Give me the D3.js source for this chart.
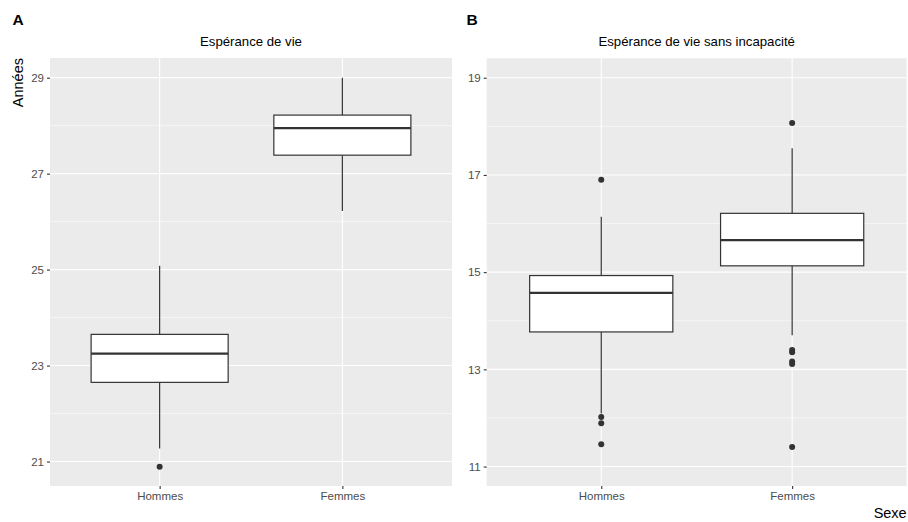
<!DOCTYPE html>
<meta charset='utf-8'>
<body style='margin:0;background:#fff'>
<script src='https://d3js.org/d3.v7.min.js'></script>
<script>

    var categories = ['Hommes', 'Femmes'];

    // panel A : Espérance de vie
    var lowA  = [21.27, 26.22];
    var q1A   = [22.65, 27.385];
    var medA  = [23.25, 27.95];
    var q3A   = [23.65, 28.22];
    var highA = [25.08, 29.0];
    var outA  = [[20.89], []];
    var ticksA = [21, 23, 25, 27, 29];
    var domainA = [20.49, 29.41];

    // panel B : Espérance de vie sans incapacité
    var lowB  = [12.09, 13.70];
    var q1B   = [13.77, 15.13];
    var medB  = [14.575, 15.66];
    var q3B   = [14.93, 16.21];
    var highB = [16.14, 17.55];
    var outB  = [[16.90, 12.02, 11.89, 11.46], [18.07, 13.40, 13.35, 13.16, 13.11, 11.40]];
    var ticksB = [11, 13, 15, 17, 19];
    var domainB = [10.6, 19.4];

    var width = 908, height = 522;
    var font = "'Liberation Sans', Arial, Helvetica, sans-serif";
    var dark = '#333333';

    var svg = d3.select('body').append('svg')
        .attr('width', width)
        .attr('height', height)
        .style('font-family', font);

    function drawPanel(p) {

        var g = svg.append('g');

        var x = d3.scalePoint().domain(categories).range([p.x0, p.x1]).padding(0.6);
        var y = d3.scaleLinear().domain(p.domain).range([p.y1, p.y0]);
        var boxW = x.step() * 0.75;

        g.append('rect')
            .attr('x', p.x0).attr('y', p.y0)
            .attr('width', p.x1 - p.x0).attr('height', p.y1 - p.y0)
            .attr('fill', '#EBEBEB');

        // minor grid
        var minors = [];
        for (var i = 0; i < p.ticks.length - 1; i++) minors.push((p.ticks[i] + p.ticks[i + 1]) / 2);
        minors.push(p.ticks[0] - 1);
        minors.push(p.ticks[p.ticks.length - 1] + 1);
        minors = minors.filter(function(v){ return v > p.domain[0] && v < p.domain[1]; });

        g.selectAll('.minor').data(minors).enter().append('line')
            .attr('x1', p.x0).attr('x2', p.x1)
            .attr('y1', function(d){ return y(d); }).attr('y2', function(d){ return y(d); })
            .attr('stroke', '#fff').attr('stroke-width', 0.55);

        g.selectAll('.major').data(p.ticks).enter().append('line')
            .attr('x1', p.x0).attr('x2', p.x1)
            .attr('y1', function(d){ return y(d); }).attr('y2', function(d){ return y(d); })
            .attr('stroke', '#fff').attr('stroke-width', 1.1);

        g.selectAll('.vmajor').data(categories).enter().append('line')
            .attr('x1', function(d){ return x(d); }).attr('x2', function(d){ return x(d); })
            .attr('y1', p.y0).attr('y2', p.y1)
            .attr('stroke', '#fff').attr('stroke-width', 1.1);

        // boxes
        var boxes = g.selectAll('.box').data(categories).enter().append('g');

        boxes.append('line')
            .attr('x1', function(d){ return x(d); }).attr('x2', function(d){ return x(d); })
            .attr('y1', function(d, i){ return y(p.high[i]); })
            .attr('y2', function(d, i){ return y(p.q3[i]); })
            .attr('stroke', dark).attr('stroke-width', 1.2);

        boxes.append('line')
            .attr('x1', function(d){ return x(d); }).attr('x2', function(d){ return x(d); })
            .attr('y1', function(d, i){ return y(p.q1[i]); })
            .attr('y2', function(d, i){ return y(p.low[i]); })
            .attr('stroke', dark).attr('stroke-width', 1.2);

        boxes.append('rect')
            .attr('x', function(d){ return x(d) - boxW / 2; })
            .attr('width', boxW)
            .attr('y', function(d, i){ return y(p.q3[i]); })
            .attr('height', function(d, i){ return y(p.q1[i]) - y(p.q3[i]); })
            .attr('fill', '#fff').attr('stroke', dark).attr('stroke-width', 1.2);

        boxes.append('line')
            .attr('x1', function(d){ return x(d) - boxW / 2; })
            .attr('x2', function(d){ return x(d) + boxW / 2; })
            .attr('y1', function(d, i){ return y(p.med[i]); })
            .attr('y2', function(d, i){ return y(p.med[i]); })
            .attr('stroke', dark).attr('stroke-width', 2.3);

        boxes.each(function(d, i){
            d3.select(this).selectAll('circle').data(p.out[i]).enter().append('circle')
                .attr('cx', x(d))
                .attr('cy', function(v){ return y(v); })
                .attr('r', 3)
                .attr('fill', dark);
        });

        // axes
        var yAxis = g.append('g')
            .attr('transform', 'translate(' + p.x0 + ',0)')
            .call(d3.axisLeft(y).tickValues(p.ticks).tickSize(3).tickPadding(3));
        var xAxis = g.append('g')
            .attr('transform', 'translate(0,' + p.y1 + ')')
            .call(d3.axisBottom(x).tickSize(3).tickPadding(3));

        [yAxis, xAxis].forEach(function(a){
            a.select('.domain').remove();
            a.selectAll('line').attr('stroke', dark).attr('stroke-width', 1.1);
            a.selectAll('text').attr('fill', '#4D4D4D')
                .style('font-family', font).style('font-size', '11.5px');
        });

        g.append('text')
            .attr('x', (p.x0 + p.x1) / 2).attr('y', 45.5)
            .attr('text-anchor', 'middle')
            .style('font-size', '13.2px')
            .text(p.title);

        g.append('text')
            .attr('x', p.tagX).attr('y', 25)
            .style('font-size', '15.5px').style('font-weight', 'bold')
            .text(p.tag);
    }

    drawPanel({ x0: 50, x1: 452, y0: 58, y1: 486, domain: domainA, ticks: ticksA,
        low: lowA, q1: q1A, med: medA, q3: q3A, high: highA, out: outA,
        title: 'Espérance de vie', tag: 'A', tagX: 12.5 });

    drawPanel({ x0: 486.7, x1: 906.7, y0: 58.3, y1: 486, domain: domainB, ticks: ticksB,
        low: lowB, q1: q1B, med: medB, q3: q3B, high: highB, out: outB,
        title: 'Espérance de vie sans incapacité', tag: 'B', tagX: 466.5 });

    svg.append('text')
        .attr('transform', 'translate(23,58) rotate(-90)')
        .attr('text-anchor', 'end')
        .style('font-size', '14.5px')
        .text('Années');

    svg.append('text')
        .attr('x', 906.7).attr('y', 517.5)
        .attr('text-anchor', 'end')
        .style('font-size', '14.5px')
        .text('Sexe');

</script>
</body>
</html>
